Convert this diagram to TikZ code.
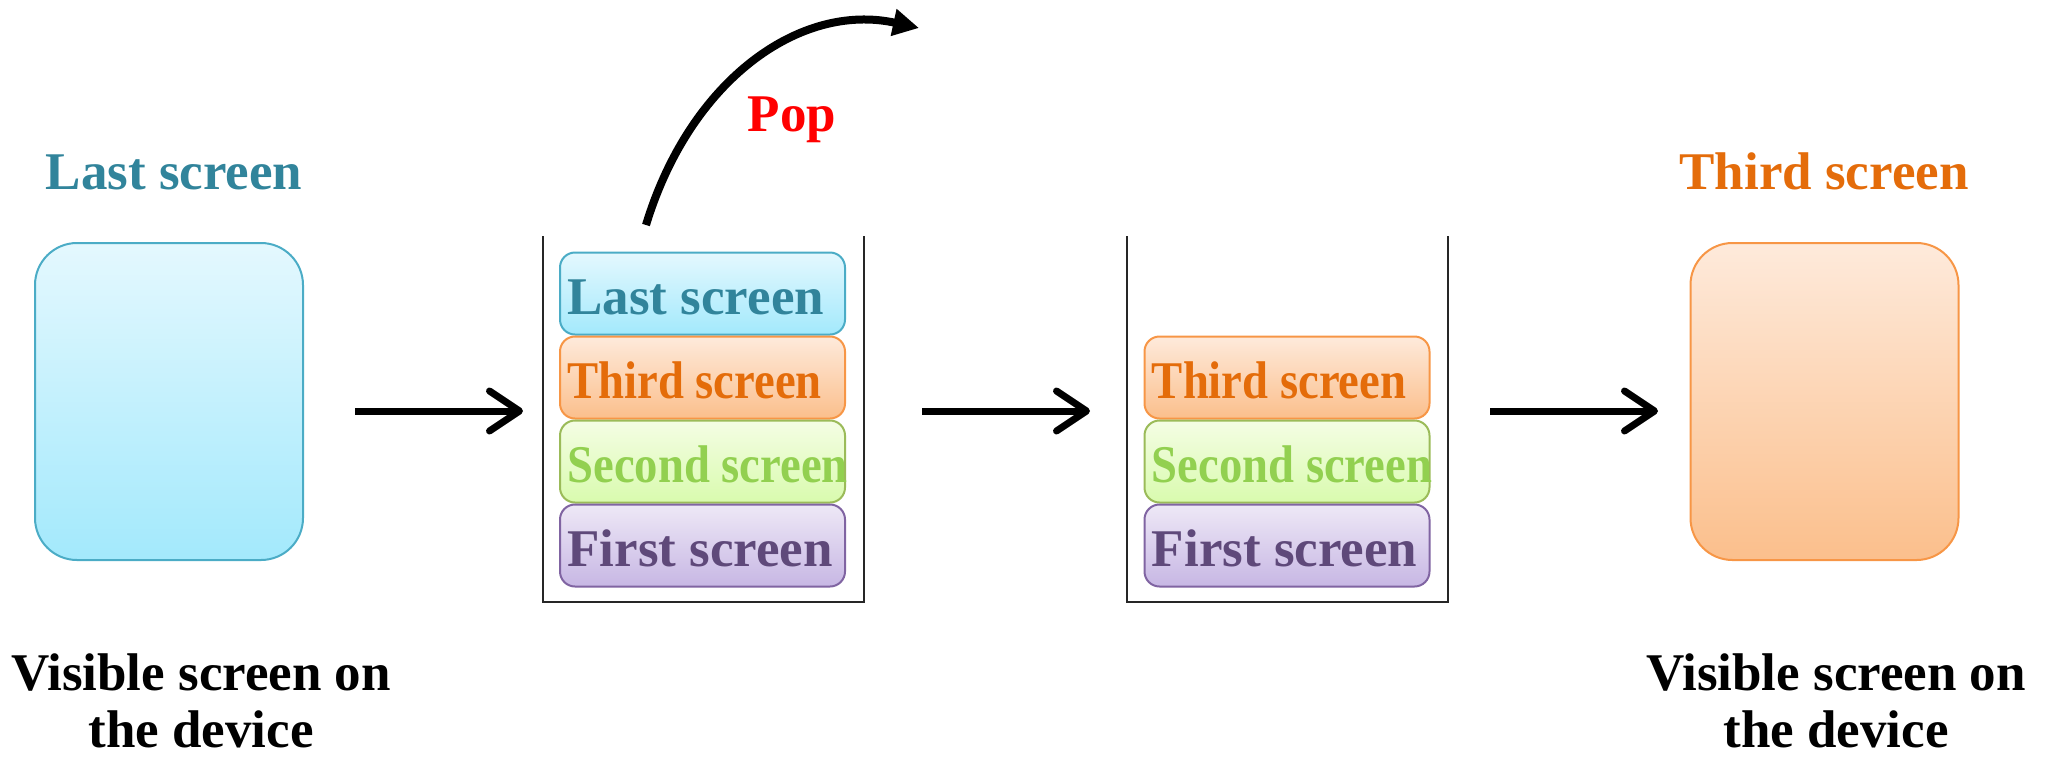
\documentclass[tikz,border=0pt]{standalone}
\usepackage{fontspec}
\setmainfont{Liberation Serif}
\usetikzlibrary{arrows.meta}

\definecolor{bTop}{HTML}{E4F8FE}
\definecolor{bBot}{HTML}{A3E9FC}
\definecolor{bLine}{HTML}{4BACC6}
\definecolor{bText}{HTML}{31849B}
\definecolor{oTop}{HTML}{FEEADB}
\definecolor{oBot}{HTML}{FBBF8C}
\definecolor{oLine}{HTML}{F79646}
\definecolor{oText}{HTML}{E46C0A}
\definecolor{gTop}{HTML}{F4FDE4}
\definecolor{gBot}{HTML}{D9FBAE}
\definecolor{gLine}{HTML}{9BBB59}
\definecolor{gText}{HTML}{92D050}
\definecolor{pTop}{HTML}{EEE8F6}
\definecolor{pBot}{HTML}{C7B7E4}
\definecolor{pLine}{HTML}{8064A2}
\definecolor{pText}{HTML}{5F497A}

\newcommand{\narrow}[1]{\scalebox{0.88}[1]{#1}}

\tikzset{
  lbl/.style={font=\fontsize{26.5}{28.5}\selectfont\bfseries, inner sep=0pt},
  screen/.style={minimum width=134pt, minimum height=158.5pt, inner sep=0pt,
    rounded corners=21pt, line width=1pt},
  card/.style={minimum width=142.5pt, minimum height=41pt, inner sep=0pt,
    rounded corners=7.5pt, line width=1pt},
  bluecard/.style={draw=bLine, top color=bTop, bottom color=bBot},
  orangecard/.style={draw=oLine, top color=oTop, bottom color=oBot},
  greencard/.style={draw=gLine, top color=gTop, bottom color=gBot},
  purplecard/.style={draw=pLine, top color=pTop, bottom color=pBot},
  cardtext/.style={lbl, anchor=base west},
  stackwall/.style={line width=1pt, black!85},
  flow/.style={line width=3.5pt, -{Straight Barb[length=15pt, width=20pt, round]}},
  popflow/.style={line width=4pt, -{Triangle[length=13pt, width=13pt]}},
}

\begin{document}
\begin{tikzpicture}[x=0.5pt, y=-0.5pt]
\useasboundingbox (0,0) rectangle (2047,757);

% visible screen before the pop
\node[lbl, text=bText, anchor=base] (h1) at (174,189) {Last screen};
\node[screen, bluecard] (s1) at (169,401.5) {};
\node[lbl, align=center, anchor=base] (v1) at (201,747) {Visible screen on\\the device};

% back stack before the pop
\draw[stackwall] (543,236) -- (543,602) -- (864,602) -- (864,236);
\node[card, bluecard]   (k1) at (702.5,293.5) {};
\node[card, orangecard] (k2) at (702.5,377.5) {};
\node[card, greencard]  (k3) at (702.5,461.5) {};
\node[card, purplecard] (k4) at (702.5,545.5) {};
\node[cardtext, text=bText] (t1) at ([shift={(8,21)}]k1.west) {Last screen};
\node[cardtext, text=oText] (t2) at ([shift={(8,21)}]k2.west) {\narrow{Third screen}};
\node[cardtext, text=gText] (t3) at ([shift={(8,21)}]k3.west) {\narrow{Second screen}};
\node[cardtext, text=pText] (t4) at ([shift={(8,21)}]k4.west) {First screen};

% the pop
\coordinate (popS) at (646,225);
\coordinate (popE) at (919,28);
\draw[popflow] (popS) .. controls (690,80) and (800,2) .. (popE);
\node[lbl, text=red, anchor=base] (pop) at (792,131) {Pop};

% back stack after the pop
\draw[stackwall] (1127,236) -- (1127,602) -- (1448,602) -- (1448,236);
\node[card, orangecard] (m2) at (1287,377.5) {};
\node[card, greencard]  (m3) at (1287,461.5) {};
\node[card, purplecard] (m4) at (1287,545.5) {};
\node[cardtext, text=oText] (u2) at ([shift={(8,21)}]m2.west) {\narrow{Third screen}};
\node[cardtext, text=gText] (u3) at ([shift={(8,21)}]m3.west) {\narrow{Second screen}};
\node[cardtext, text=pText] (u4) at ([shift={(8,21)}]m4.west) {First screen};

% visible screen after the pop
\node[lbl, text=oText, anchor=base] (h2) at (1824,189) {Third screen};
\node[screen, orangecard] (s2) at (1824.5,401.5) {};
\node[lbl, align=center, anchor=base] (v2) at (1836,747) {Visible screen on\\the device};

% flow arrows
\coordinate (a1s) at (355,411);  \coordinate (a1e) at (523,411);
\coordinate (a2s) at (922,411);  \coordinate (a2e) at (1090,411);
\coordinate (a3s) at (1490,411); \coordinate (a3e) at (1658,411);
\draw[flow] (a1s) -- (a1e);
\draw[flow] (a2s) -- (a2e);
\draw[flow] (a3s) -- (a3e);
\end{tikzpicture}
\end{document}
